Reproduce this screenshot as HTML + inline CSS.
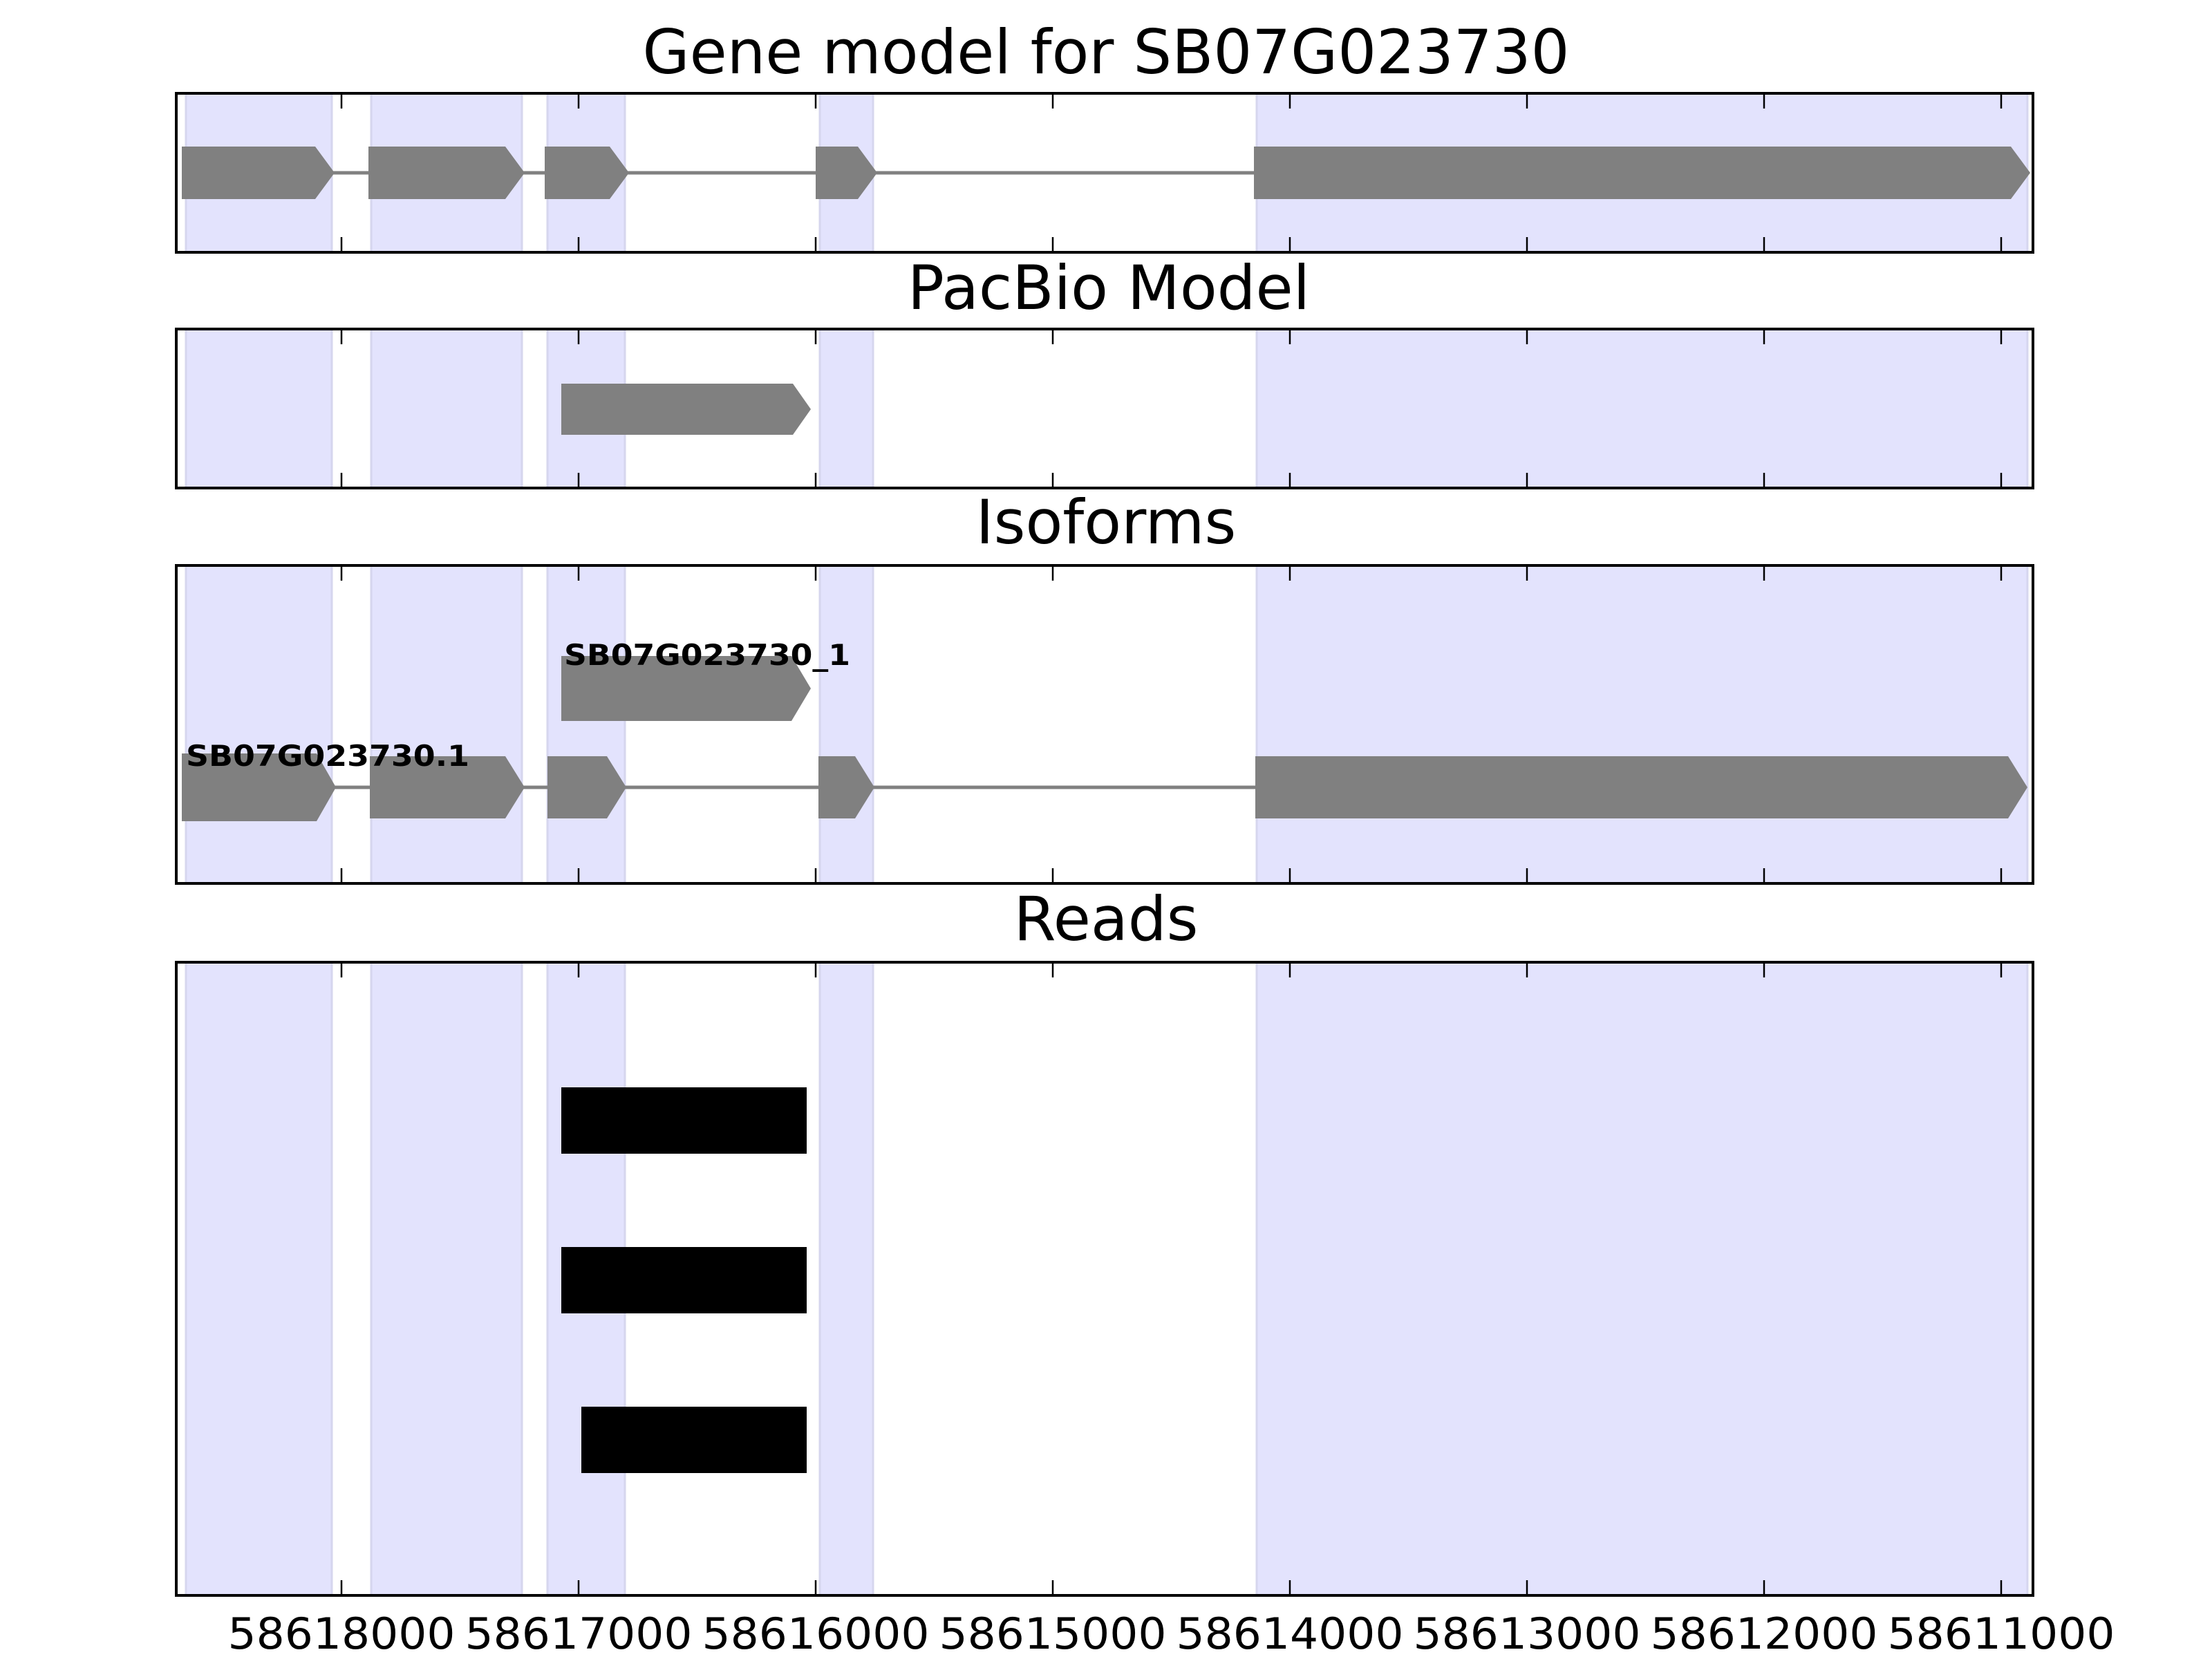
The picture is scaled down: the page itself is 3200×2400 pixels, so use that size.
<!DOCTYPE html>
<html><head><meta charset="utf-8"><style>html,body{margin:0;padding:0;background:#fff;width:3200px;height:2400px;overflow:hidden}svg{display:block}</style></head>
<body>
<svg width="3200" height="2400" viewBox="0 0 3200 2400" xmlns="http://www.w3.org/2000/svg" font-family="DejaVu Sans, Liberation Sans, sans-serif">
<defs>
<g id="bands">
<rect x="269" y="0" width="211" height="2400" fill="#e3e3fd" stroke="#d6d6ee" stroke-width="3"/>
<rect x="537" y="0" width="218" height="2400" fill="#e3e3fd" stroke="#d6d6ee" stroke-width="3"/>
<rect x="792" y="0" width="112" height="2400" fill="#e3e3fd" stroke="#d6d6ee" stroke-width="3"/>
<rect x="1186" y="0" width="77" height="2400" fill="#e3e3fd" stroke="#d6d6ee" stroke-width="3"/>
<rect x="1818" y="0" width="1115" height="2400" fill="#e3e3fd" stroke="#d6d6ee" stroke-width="3"/>
</g>
</defs>

<text x="1600" y="106" font-size="88" text-anchor="middle" textLength="1341" lengthAdjust="spacingAndGlyphs">Gene model for SB07G023730</text>
<text x="1604" y="447" font-size="88" text-anchor="middle">PacBio Model</text>
<text x="1600" y="786" font-size="88" text-anchor="middle">Isoforms</text>
<text x="1600" y="1360" font-size="88" text-anchor="middle">Reads</text>

<svg x="255" y="135" width="2686" height="230" viewBox="255 135 2686 230" overflow="hidden"><use href="#bands"/></svg>
<line x1="263" y1="250" x2="2930" y2="250" stroke="#808080" stroke-width="5"/>
<polygon fill="#808080" points="263,212 456,212 484,250 456,288 263,288"/>
<polygon fill="#808080" points="533,212 731,212 759,250 731,288 533,288"/>
<polygon fill="#808080" points="788,212 882,212 910,250 882,288 788,288"/>
<polygon fill="#808080" points="1180,212 1241,212 1269,250 1241,288 1180,288"/>
<polygon fill="#808080" points="1814,212 2909,212 2937,250 2909,288 1814,288"/>

<svg x="255" y="476" width="2686" height="230" viewBox="255 476 2686 230" overflow="hidden"><use href="#bands"/></svg>
<polygon fill="#808080" points="812,555 1147,555 1173,592 1147,629 812,629"/>

<svg x="255" y="818" width="2686" height="460" viewBox="255 818 2686 460" overflow="hidden"><use href="#bands"/></svg>
<polygon fill="#808080" points="812,949 1145,949 1173,996 1145,1043 812,1043"/>
<line x1="263" y1="1139" x2="2930" y2="1139" stroke="#808080" stroke-width="5"/>
<polygon fill="#808080" points="263,1090 458,1090 486,1139 458,1188 263,1188"/>
<polygon fill="#808080" points="535,1094 731,1094 759,1139 731,1184 535,1184"/>
<polygon fill="#808080" points="792,1094 878,1094 906,1139 878,1184 792,1184"/>
<polygon fill="#808080" points="1184,1094 1237,1094 1265,1139 1237,1184 1184,1184"/>
<polygon fill="#808080" points="1816,1094 2905,1094 2933,1139 2905,1184 1816,1184"/>
<text x="816" y="962" font-size="42" font-weight="bold" textLength="414" lengthAdjust="spacingAndGlyphs">SB07G023730_1</text>
<text x="269" y="1108" font-size="42" font-weight="bold" textLength="410" lengthAdjust="spacingAndGlyphs">SB07G023730.1</text>

<svg x="255" y="1392" width="2686" height="916" viewBox="255 1392 2686 916" overflow="hidden"><use href="#bands"/></svg>
<rect x="812" y="1573" width="355" height="96" fill="#000"/>
<rect x="812" y="1804" width="355" height="96" fill="#000"/>
<rect x="841" y="2035" width="326" height="96" fill="#000"/>

<g fill="none" stroke="#000">
<rect x="255" y="135" width="2686" height="230" stroke-width="4"/>
<rect x="255" y="476" width="2686" height="230" stroke-width="4"/>
<rect x="255" y="818" width="2686" height="460" stroke-width="4"/>
<rect x="255" y="1392" width="2686" height="916" stroke-width="4"/>
</g>
<g stroke="#000" stroke-width="2.5">
<path d="M494 137v20M837 137v20M1180 137v20M1523 137v20M1866 137v20M2209 137v20M2552 137v20M2895 137v20
M494 363v-20M837 363v-20M1180 363v-20M1523 363v-20M1866 363v-20M2209 363v-20M2552 363v-20M2895 363v-20
M494 478v20M837 478v20M1180 478v20M1523 478v20M1866 478v20M2209 478v20M2552 478v20M2895 478v20
M494 704v-20M837 704v-20M1180 704v-20M1523 704v-20M1866 704v-20M2209 704v-20M2552 704v-20M2895 704v-20
M494 820v20M837 820v20M1180 820v20M1523 820v20M1866 820v20M2209 820v20M2552 820v20M2895 820v20
M494 1276v-20M837 1276v-20M1180 1276v-20M1523 1276v-20M1866 1276v-20M2209 1276v-20M2552 1276v-20M2895 1276v-20
M494 1394v20M837 1394v20M1180 1394v20M1523 1394v20M1866 1394v20M2209 1394v20M2552 1394v20M2895 1394v20
M494 2306v-20M837 2306v-20M1180 2306v-20M1523 2306v-20M1866 2306v-20M2209 2306v-20M2552 2306v-20M2895 2306v-20"/>
</g>

<g font-size="62" text-anchor="middle">
<text x="494" y="2385" textLength="329" lengthAdjust="spacingAndGlyphs">58618000</text>
<text x="837" y="2385" textLength="329" lengthAdjust="spacingAndGlyphs">58617000</text>
<text x="1180" y="2385" textLength="329" lengthAdjust="spacingAndGlyphs">58616000</text>
<text x="1523" y="2385" textLength="329" lengthAdjust="spacingAndGlyphs">58615000</text>
<text x="1866" y="2385" textLength="329" lengthAdjust="spacingAndGlyphs">58614000</text>
<text x="2209" y="2385" textLength="329" lengthAdjust="spacingAndGlyphs">58613000</text>
<text x="2552" y="2385" textLength="329" lengthAdjust="spacingAndGlyphs">58612000</text>
<text x="2895" y="2385" textLength="329" lengthAdjust="spacingAndGlyphs">58611000</text>
</g>
</svg>
</body></html>
